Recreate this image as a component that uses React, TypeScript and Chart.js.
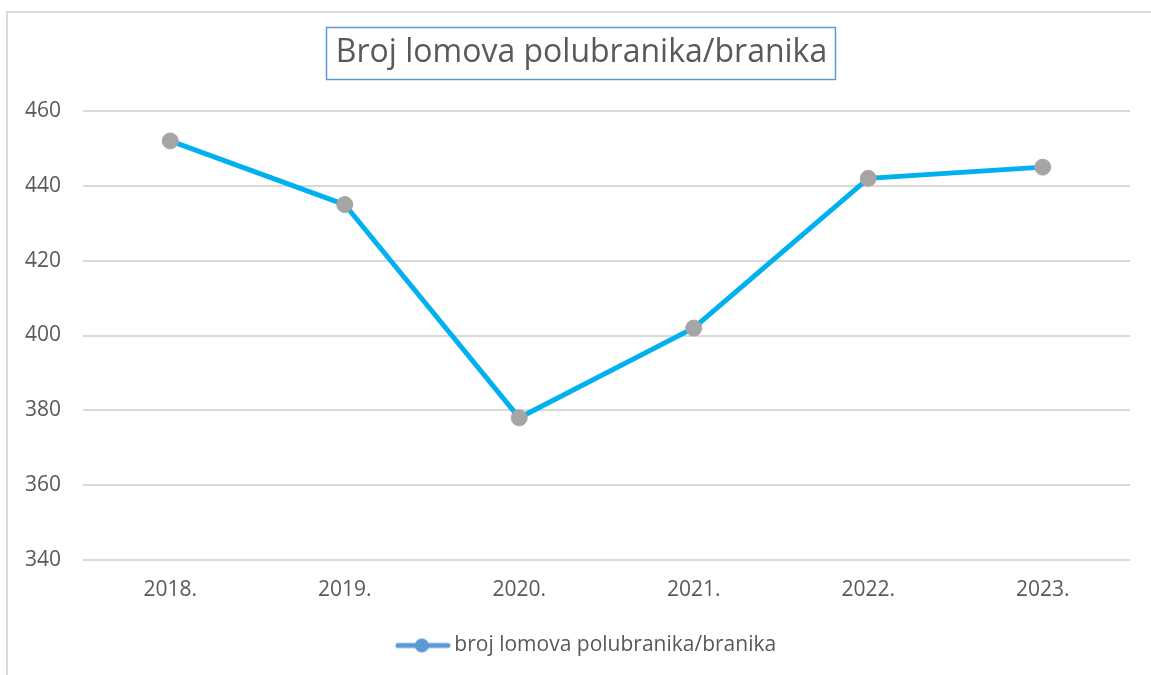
import React, { useEffect, useRef } from 'react';
import { Chart, registerables } from 'chart.js';

Chart.register(...registerables);

const categories = ['2018.', '2019.', '2020.', '2021.', '2022.', '2023.'];
const values = [452, 435, 378, 402, 442, 445];
const seriesLabel = 'broj lomova polubranika/branika';
const chartTitle = 'Broj lomova polubranika/branika';
const yTickMin = 340;
const yTickMax = 460;
const yTickStep = 20;

const W = 1163;
const H = 675;
const FONT = 'Open Sans';
const TEXT = '#595959';
const TITLE_SIZE = 32;
const TITLE_PAD_TOP = 34;
const LABEL_SIZE = 21;

const titleBoxPlugin = {
  id: 'titleBox',
  afterDraw(chart: any) {
    const tb = chart.titleBlock;
    if (!tb) return;
    const ctx = chart.ctx;
    ctx.save();
    ctx.font = `${TITLE_SIZE}px "${FONT}"`;
    const tw = ctx.measureText(chartTitle).width;
    const cx = (tb.left + tb.right) / 2;
    const cy = tb.top + TITLE_PAD_TOP + (TITLE_SIZE * 1.2) / 2;
    ctx.strokeStyle = '#5b9bd5';
    ctx.lineWidth = 1.5;
    ctx.strokeRect(Math.round(cx - tw / 2 - 10) + 0.5, Math.round(cy - 26) + 0.5, Math.round(tw + 18), 52);
    ctx.restore();
  },
};

export default function App() {
  const ref = useRef<HTMLCanvasElement | null>(null);

  useEffect(() => {
    if (!ref.current) return;
    const legendImg = document.createElement('canvas');
    legendImg.width = 71;
    legendImg.height = 16;
    const lc = legendImg.getContext('2d')!;
    lc.strokeStyle = '#5b9bd5';
    lc.lineWidth = 5;
    lc.lineCap = 'round';
    lc.beginPath();
    lc.moveTo(18, 8);
    lc.lineTo(68, 8);
    lc.stroke();
    lc.fillStyle = '#5b9bd5';
    lc.beginPath();
    lc.arc(42, 8, 7, 0, Math.PI * 2);
    lc.fill();

    const chart = new Chart(ref.current, {
      type: 'line',
      data: {
        labels: categories,
        datasets: [
          {
            label: seriesLabel,
            data: values,
            borderColor: '#00b0f0',
            borderWidth: 5,
            backgroundColor: '#a5a5a5',
            pointBackgroundColor: '#a5a5a5',
            pointBorderColor: '#b0a49c',
            pointBorderWidth: 1,
            pointRadius: 8,
            tension: 0,
            fill: false,
          },
        ],
      },
      options: {
        responsive: false,
        animation: false,
        layout: { padding: { left: 0, right: 0, top: 0, bottom: 9 } },
        plugins: {
          title: {
            display: true,
            text: chartTitle,
            color: TEXT,
            font: { family: FONT, size: TITLE_SIZE, weight: 'normal', lineHeight: 1.2 },
            padding: { top: TITLE_PAD_TOP, bottom: 111 - TITLE_PAD_TOP - TITLE_SIZE * 1.2 },
          },
          legend: {
            display: true,
            position: 'bottom',
            labels: {
              color: TEXT,
              font: { family: FONT, size: LABEL_SIZE },
              usePointStyle: true,
              pointStyleWidth: 57,
              padding: 10,
              generateLabels: () => [
                {
                  text: seriesLabel,
                  pointStyle: legendImg as any,
                  fillStyle: '#5b9bd5',
                  strokeStyle: '#5b9bd5',
                  lineWidth: 0,
                  hidden: false,
                  datasetIndex: 0,
                  fontColor: TEXT,
                } as any,
              ],
            },
          },
          tooltip: { enabled: false },
        },
        scales: {
          x: {
            offset: true,
            grid: { display: false, drawTicks: false },
            border: { display: false },
            ticks: { color: TEXT, font: { family: FONT, size: LABEL_SIZE }, padding: 17, maxRotation: 0 },
            afterFit: (s: any) => {
              s.height = 65;
            },
          },
          y: {
            min: yTickMin,
            max: yTickMax,
            grid: { color: '#d9d9d9', lineWidth: 2, drawTicks: false },
            border: { display: false },
            ticks: { stepSize: yTickStep, color: TEXT, font: { family: FONT, size: LABEL_SIZE }, padding: 22 },
            afterFit: (s: any) => {
              s.width = 83;
            },
          },
          yRight: {
            position: 'right',
            display: true,
            grid: { display: false, drawTicks: false },
            border: { display: false },
            ticks: { display: false },
            afterFit: (s: any) => {
              s.width = W - 1130;
            },
          },
        },
      },
      plugins: [titleBoxPlugin],
    });
    return () => chart.destroy();
  }, []);

  return (
    <div
      style={{
        position: 'fixed',
        left: 0,
        top: 0,
        width: 1151,
        height: 675,
        overflow: 'hidden',
        background: '#ffffff',
      }}
    >
      <div
        style={{
          position: 'absolute',
          left: 6,
          top: 11,
          width: 2000,
          height: 2000,
          border: '2px solid #d9d9d9',
        }}
      />
      <canvas ref={ref} width={W} height={H} style={{ position: 'absolute', left: 0, top: 0, width: W, height: H }} />
    </div>
  );
}
